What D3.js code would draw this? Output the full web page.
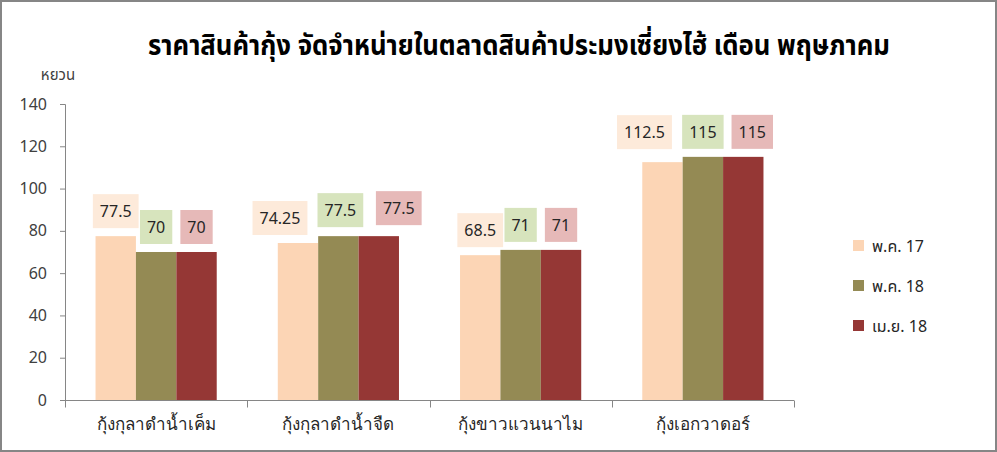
<!DOCTYPE html>
<html><head><meta charset="utf-8">
<script src="https://cdn.jsdelivr.net/npm/d3@7"></script>
<style>
html,body{margin:0;padding:0;background:#fff;}
svg{display:block;font-family:"Noto Sans Thai","Noto Sans","DejaVu Sans",sans-serif;}
</style></head>
<body><svg id="c" width="997" height="452"></svg>
<script>
const title = "ราคาสินค้ากุ้ง จัดจำหน่ายในตลาดสินค้าประมงเซี่ยงไฮ้ เดือน พฤษภาคม";
const unitLabel = "หยวน";
const categories = ["กุ้งกุลาดำน้ำเค็ม", "กุ้งกุลาดำน้ำจืด", "กุ้งขาวแวนนาไม", "กุ้งเอกวาดอร์"];
const seriesNames = ["พ.ค. 17", "พ.ค. 18", "เม.ย. 18"];
const may17 = [77.5, 74.25, 68.5, 112.5];
const may18 = [70, 77.5, 71, 115];
const apr18 = [70, 77.5, 71, 115];
const yTicks = [0, 20, 40, 60, 80, 100, 120, 140];

const barColors = ["#FCD5B5", "#948A54", "#953735"];
const labelFills = ["#FDEADA", "#D7E4BD", "#E6B9B8"];
// small label nudges (dx, dy) per series per category, as placed in the original
const labelShift = [
  [[0,0],[-18,0],[0,0],[-18,-5]],
  [[0,0],[2,-1],[0,0],[0,0]],
  [[0,0],[20,-3],[0,0],[9,0]]
];
const seriesValues = [may17, may18, apr18];

const svg = d3.select("#c");
svg.append("rect").attr("x",1).attr("y",1).attr("width",995).attr("height",450)
  .attr("fill","#fff").attr("stroke","#868686").attr("stroke-width",2);

const x0 = d3.scaleBand().domain(categories).range([65, 794]).padding(0);
const bw = x0.bandwidth();
const x1 = d3.scaleBand().domain(seriesNames).range([bw*0.1675, bw*0.8325]).padding(0);
const y = d3.scaleLinear().domain([0, 140]).range([400, 104]);

// title
const t = svg.append("text").attr("x", 519).attr("y", 55).attr("text-anchor","middle")
  .attr("font-size", 28).attr("font-weight","bold").attr("fill","#000").text(title);
t.attr("textLength", 742).attr("lengthAdjust","spacingAndGlyphs");

svg.append("text").attr("x", 58).attr("y", 80).attr("text-anchor","middle")
  .attr("font-size", 15).attr("fill","#404040").text(unitLabel);

// y axis
const yAxis = d3.axisLeft(y).tickValues(yTicks).tickSize(5).tickPadding(13);
const gy = svg.append("g").attr("transform","translate(65,0)").call(yAxis);
gy.select(".domain").attr("stroke","#868686").attr("d","M-5,104.5H0.5V400.5");
gy.selectAll(".tick line").attr("stroke","#868686");
gy.selectAll(".tick text").attr("font-size",16).attr("fill","#404040").attr("font-family","'Noto Sans',sans-serif");

// x axis
const xAxis = d3.axisBottom(x0).tickSize(0).tickPadding(0);
const gx = svg.append("g").attr("transform","translate(0,400.5)").call(xAxis);
gx.select(".domain").attr("stroke","#868686").attr("d","M65,0H794");
gx.selectAll(".tick text").attr("font-size",17).attr("fill","#262626").attr("dy","1.75em");
const bounds = [x0.range()[0]].concat(categories.map(c => x0(c) + bw));
gx.selectAll(".bound").data(bounds).join("line").attr("class","bound")
  .attr("x1", d => Math.round(d)+0.5).attr("x2", d => Math.round(d)+0.5)
  .attr("y1",0).attr("y2",7).attr("stroke","#868686");

// bars
const g = svg.append("g");
seriesNames.forEach((s, si) => {
  g.selectAll(".b"+si).data(seriesValues[si]).join("rect").attr("class","b"+si)
    .attr("x", (d,i) => x0(categories[i]) + x1(s))
    .attr("width", x1.bandwidth())
    .attr("y", d => y(d))
    .attr("height", d => y(0) - y(d))
    .attr("fill", barColors[si]);
});

// data labels
seriesNames.forEach((s, si) => {
  seriesValues[si].forEach((v, i) => {
    const cx = x0(categories[i]) + x1(s) + x1.bandwidth()/2 + labelShift[si][i][0];
    const bottom = y(v) - 8 + labelShift[si][i][1];
    const lg = svg.append("g");
    const r = lg.append("rect");
    const tx = lg.append("text").attr("x", cx).attr("y", bottom - 11)
      .attr("text-anchor","middle").attr("font-size",16).attr("fill","#262626")
      .attr("font-family","'Noto Sans',sans-serif").text(v);
    const w = tx.node().getBBox().width + 14;
    r.attr("x", cx - w/2).attr("y", bottom - 34).attr("width", w).attr("height", 34)
      .attr("fill", labelFills[si]);
  });
});

// legend
seriesNames.forEach((s, si) => {
  const ly = 246 + si*40;
  svg.append("rect").attr("x",853).attr("y",ly-6).attr("width",11).attr("height",11).attr("fill",barColors[si]);
  svg.append("text").attr("x",872).attr("y",ly+6).attr("font-size",16).attr("fill","#262626").text(s);
});
</script></body></html>
